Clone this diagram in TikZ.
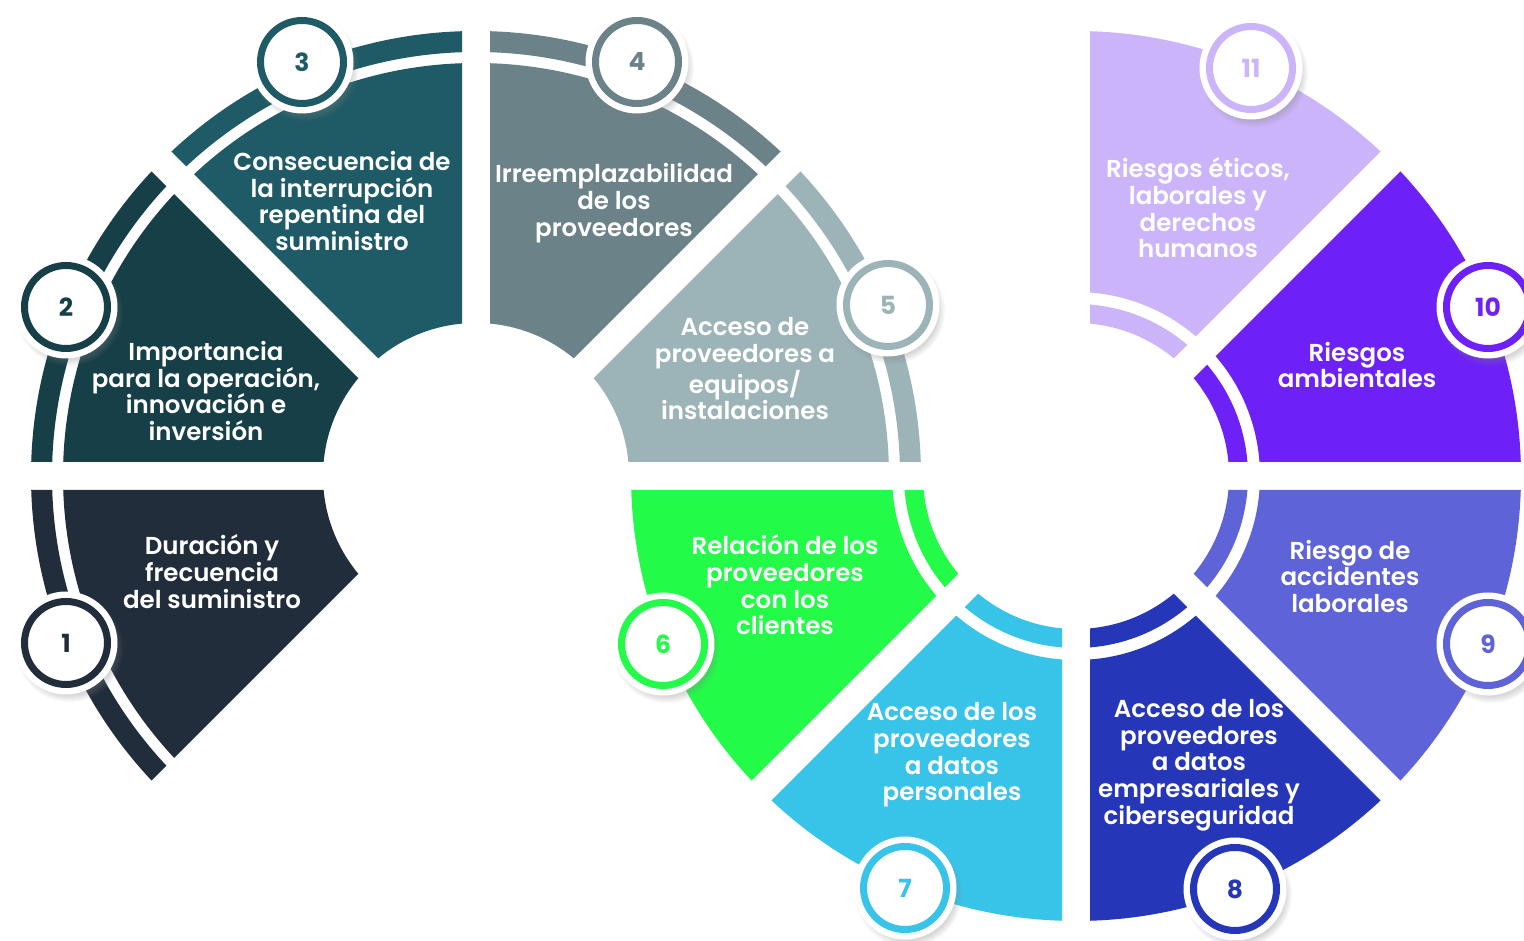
\documentclass[tikz,border=0pt]{standalone}
\usepackage{fontspec}
\newfontfamily\labfont{Poppins SemiBold}
\newfontfamily\numfont{Poppins Bold}
\usetikzlibrary{calc,shadows,fadings}
\definecolor{c1}{HTML}{222D3C}
\definecolor{c2}{HTML}{163F48}
\definecolor{c3}{HTML}{1F5B66}
\definecolor{c4}{HTML}{6A8288}
\definecolor{c5}{HTML}{9CB3B7}
\definecolor{c6}{HTML}{22FC48}
\definecolor{c7}{HTML}{38C3E8}
\definecolor{c8}{HTML}{2536B8}
\definecolor{c9}{HTML}{5E63D7}
\definecolor{c10}{HTML}{6D21F7}
\definecolor{c11}{HTML}{CBB4FA}
\definecolor{glowc}{HTML}{D3E0FA}
\pgfdeclareradialshading{badgeglow}{\pgfpoint{0bp}{0bp}}{color(0bp)=(white); color(32bp)=(white); color(50bp)=(glowc)}
% #1 centre, #2 start angle, #3 inner radius, #4 outer radius, #5 colour
\newcommand\wedgefill[5]{%
  \begin{scope}
    \path (#1) ++({#2+22.5}:36.58) coordinate (ap);
    \clip (ap) -- ($(ap)+(#2:800)$) -- ($(ap)+({#2+45}:800)$) -- cycle;
    \fill[#5, even odd rule] (#1) circle[radius=#4] (#1) circle[radius=#3];
  \end{scope}}
% circle 1: main 153-413, band 424-445 ; circle 2: band 153-172, main 184-445
\newcommand\segA[2]{\wedgefill{ca}{#1}{153}{413}{#2}\wedgefill{ca}{#1}{424}{445}{#2}}
\newcommand\segB[2]{\wedgefill{cb}{#1}{184}{445}{#2}\wedgefill{cb}{#1}{153}{172}{#2}}
\tikzset{
  lab/.style={align=center, text=white, inner sep=0pt,
    font=\labfont\fontsize{24.5}{26.7}\selectfont},
  badgeout/.style={circle, fill=white, minimum size=103, inner sep=0pt,
    circular drop shadow={shadow xshift=3pt, shadow yshift=-5pt, shadow scale=1.05, opacity=0.32}},
  badgein/.style={circle, draw=#1, line width=7, minimum size=83, inner sep=0pt,
    shading=badgeglow, text=#1, font=\numfont\fontsize{25}{28}\selectfont},
}
\begin{document}
\begin{tikzpicture}[x=1pt,y=1pt]
\useasboundingbox (0,0) rectangle (1524,941);
\coordinate (ca) at (476,465);
\coordinate (cb) at (1076,465);
% circle 1
\segA{0}{c5}
\segA{45}{c4}
\segA{90}{c3}
\segA{135}{c2}
\segA{180}{c1}
% circle 2
\segB{180}{c6}
\segB{225}{c7}
\segB{270}{c8}
\segB{315}{c9}
\segB{0}{c10}
\segB{45}{c11}
% labels
\node[lab] (t1) at (212,369.5) {Duración y\\frecuencia\\del suministro};
\node[lab] (t2) at (206,550) {Importancia\\para la operación,\\innovación e\\inversión};
\node[lab] (t3) at (342,740) {Consecuencia de\\la interrupción\\repentina del\\suministro};
\node[lab] (t4) at (614,738) {Irreemplazabilidad\\de los\\proveedores};
\node[lab] (t5) at (745,572) {Acceso de\\proveedores a\\equipos/\\instalaciones};
\node[lab] (t6) at (785,356) {Relación de los\\proveedores\\con los\\clientes};
\node[lab] (t7) at (952,186) {Acceso de los\\proveedores\\a datos\\personales};
\node[lab] (t8) at (1199,176) {Acceso de los\\proveedores\\a datos\\empresariales y\\ciberseguridad};
\node[lab] (t9) at (1350,364.5) {Riesgo de\\accidentes\\laborales};
\node[lab] (t10) at (1357,576) {Riesgos\\ambientales};
\node[lab] (t11) at (1198,733) {Riesgos éticos,\\laborales y\\derechos\\humanos};
% badges
\foreach \n/\x/\y in {1/66/298, 2/66/634, 3/302/879, 4/637/879, 5/888/636,
  6/663/297, 7/905/53, 8/1235/52, 9/1488/297, 10/1488/634, 11/1251/873}{
  \node[badgeout] (bo\n) at (\x,\y) {};
  \node[badgein=c\n] (b\n) at (bo\n) {\n};
}
\end{tikzpicture}
\end{document}
